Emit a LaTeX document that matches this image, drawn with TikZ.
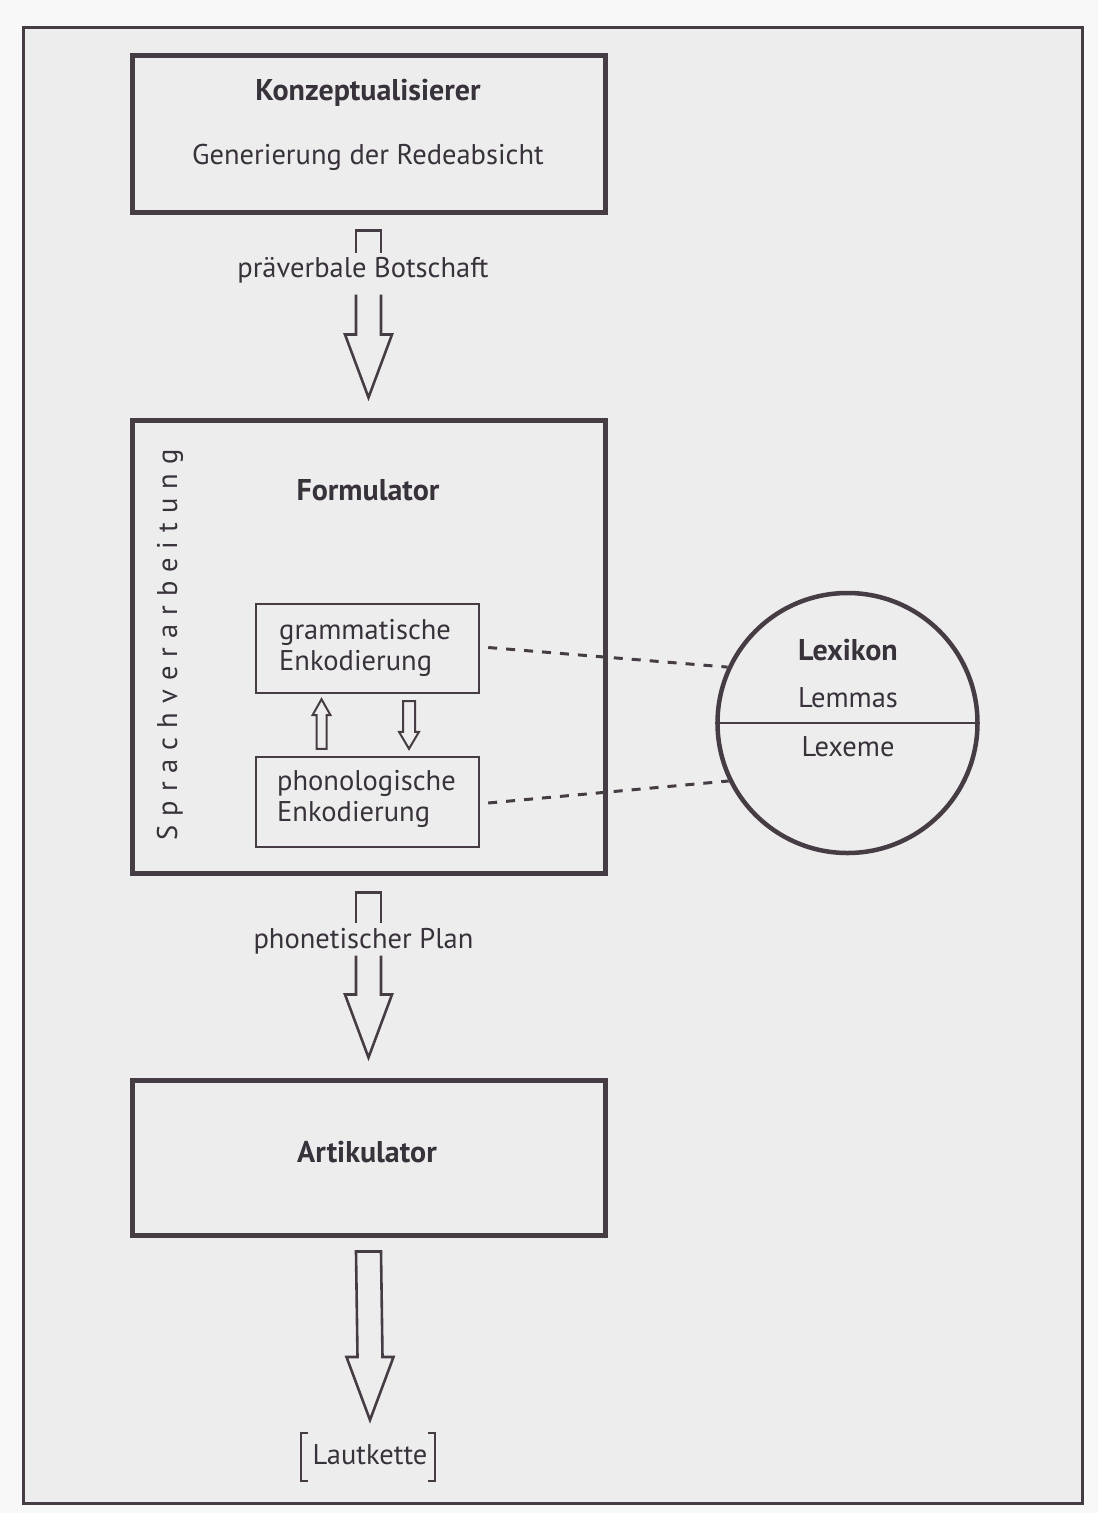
\documentclass[tikz,border=0pt]{standalone}
\usepackage{fontspec}
\setmainfont{PT Sans}
\usetikzlibrary{calc}

\definecolor{ink}{HTML}{463C44}
\definecolor{txt}{HTML}{38323A}
\definecolor{paper}{HTML}{EEEDED}
\definecolor{rim}{HTML}{F8F8F8}

% shaft cap of a hollow arrow: open at the bottom
\newcommand\hollowcap[2]{%
  \draw[hollow] ($(#1)+(-12.5,#2)$) -- ($(#1)+(-12.5,0)$) -- ($(#1)+(12.5,0)$) -- ($(#1)+(12.5,#2)$);}
% lower shaft and head of a hollow arrow: tip at #1, shaft of length #2 above the head
\newcommand\hollowhead[2]{%
  \draw[hollow] ($(#1)+(-12.5,-63-#2)$) -- ($(#1)+(-12.5,-63)$) -- ($(#1)+(-23.5,-63)$) -- (#1)
    -- ($(#1)+(23.5,-63)$) -- ($(#1)+(12.5,-63)$) -- ($(#1)+(12.5,-63-#2)$);}
% letter-spaced text
\newcommand\ls{\kern 9pt}

\begin{document}
\begin{tikzpicture}[x=1pt,y=-1pt,
  every node/.style={text=txt,inner sep=0pt,font=\fontsize{28.5}{31}\selectfont},
  heavybox/.style={draw=ink,line width=5pt,minimum width=473pt},
  lightbox/.style={draw=ink,line width=2.4pt,minimum width=223pt,minimum height=89pt},
  title/.style={font=\fontsize{30}{31}\selectfont\bfseries},
  hollow/.style={draw=ink,line width=2.6pt,line join=miter},
  smallarrow/.style={draw=ink,line width=2pt,line join=miter},
  link/.style={draw=ink,line width=3pt,dash pattern=on 9pt off 9pt},
  bracket/.style={draw=ink,line width=1.8pt}]

% page and outer frame
\fill[rim] (0,0) rectangle (1098,1513);
\useasboundingbox (0,0) rectangle (1098,1513);
\filldraw[fill=paper,draw=ink,line width=3pt] (23,27) rectangle (1082,1503);

% main stages
\node[heavybox,minimum height=157pt] (konz) at (368.5,133.5) {};
\node[heavybox,minimum height=453pt] (form) at (368.5,646.5) {};
\node[heavybox,minimum height=155pt] (artik) at (368.5,1157.5) {};

\node[title] (konzT) at (368,93) {Konzeptualisierer};
\node (konzS) at (368,157) {Generierung der Redeabsicht};
\node[title] (formT) at (368,490) {Formulator};
\node[title] (artikT) at (367,1152) {Artikulator};

% vertical label along the formulator
\node[rotate=90] (sprach) at (170,645)
  {S\ls p\ls r\ls a\ls c\ls h\ls v\ls e\ls r\ls a\ls r\ls b\ls e\ls i\ls t\ls u\ls n\ls g};

% encoding stages
\node[lightbox] (gram) at (367.5,648.5) {};
\node[lightbox,minimum height=90pt] (phon) at (367.5,802) {};
\node[anchor=west,align=left] (gramT) at (279,648) {grammatische\\Enkodierung};
\node[anchor=west,align=left] (phonT) at (277,799) {phonologische\\Enkodierung};

% lexicon
\node[circle,draw=ink,line width=4.5pt,minimum size=260pt] (lex) at (847.5,723) {};
\draw[ink,line width=2.4pt] (lex.west) -- (lex.east);
\node[title] (lexT) at (848,650) {Lexikon};
\node (lemT) at (848,698) {Lemmas};
\node (lxmT) at (848,747) {Lexeme};

\draw[link] ($(gram.east)+(8,-1)$) -- (lex.155);
\draw[link] ($(phon.east)+(8,1)$) -- (lex.206);

% arrows between the encoding stages
\coordinate (uptip) at ($(gram.south)+(-46,5)$);
\coordinate (upbot) at ($(phon.north)+(-46,-7)$);
\draw[smallarrow] ($(upbot)+(-5,0)$) -- ($(uptip)+(-5,16)$) -- ($(uptip)+(-9,16)$) -- (uptip)
  -- ($(uptip)+(9,16)$) -- ($(uptip)+(5,16)$) -- ($(upbot)+(5,0)$) -- cycle;
\coordinate (dntop) at ($(gram.south)+(41.5,7)$);
\coordinate (dntip) at ($(phon.north)+(41.5,-7)$);
\draw[smallarrow] ($(dntop)+(-6,0)$) -- ($(dntip)+(-6,-17)$) -- ($(dntip)+(-10,-17)$) -- (dntip)
  -- ($(dntip)+(10,-17)$) -- ($(dntip)+(6,-17)$) -- ($(dntop)+(6,0)$) -- cycle;

% konzeptualisierer -> formulator
\node (pv) at (363,270) {präverbale Botschaft};
\coordinate (a1top) at ($(konz.south)+(0,16)$);
\coordinate (a1tip) at ($(form.north)+(0,-20)$);
\hollowcap{a1top}{22}
\hollowhead{a1tip}{40}

% formulator -> artikulator
\node (pp) at (363.5,941) {phonetischer Plan};
\coordinate (a2top) at ($(form.south)+(0,17)$);
\coordinate (a2tip) at ($(artik.north)+(0,-20)$);
\hollowcap{a2top}{30}
\hollowhead{a2tip}{39}

% artikulator -> lautkette
\node (laut) at (370,1455) {Lautkette};
\coordinate (a3top) at ($(artik.south)+(0,14)$);
\coordinate (a3tip) at ($(laut.center)+(0,-35)$);
\draw[hollow] ($(a3top)+(-12.5,0)$) -- ($(a3top)+(12.5,0)$) -- ($(a3tip)+(12.5,-63)$) -- ($(a3tip)+(23.5,-63)$)
  -- (a3tip) -- ($(a3tip)+(-23.5,-63)$) -- ($(a3tip)+(-12.5,-63)$) -- cycle;
\draw[bracket] ($(laut.center)+(-62,-22)$) -- ($(laut.center)+(-69,-22)$)
  -- ($(laut.center)+(-69,26)$) -- ($(laut.center)+(-62,26)$);
\draw[bracket] ($(laut.center)+(58,-22)$) -- ($(laut.center)+(65,-22)$)
  -- ($(laut.center)+(65,26)$) -- ($(laut.center)+(58,26)$);
\end{tikzpicture}
\end{document}
